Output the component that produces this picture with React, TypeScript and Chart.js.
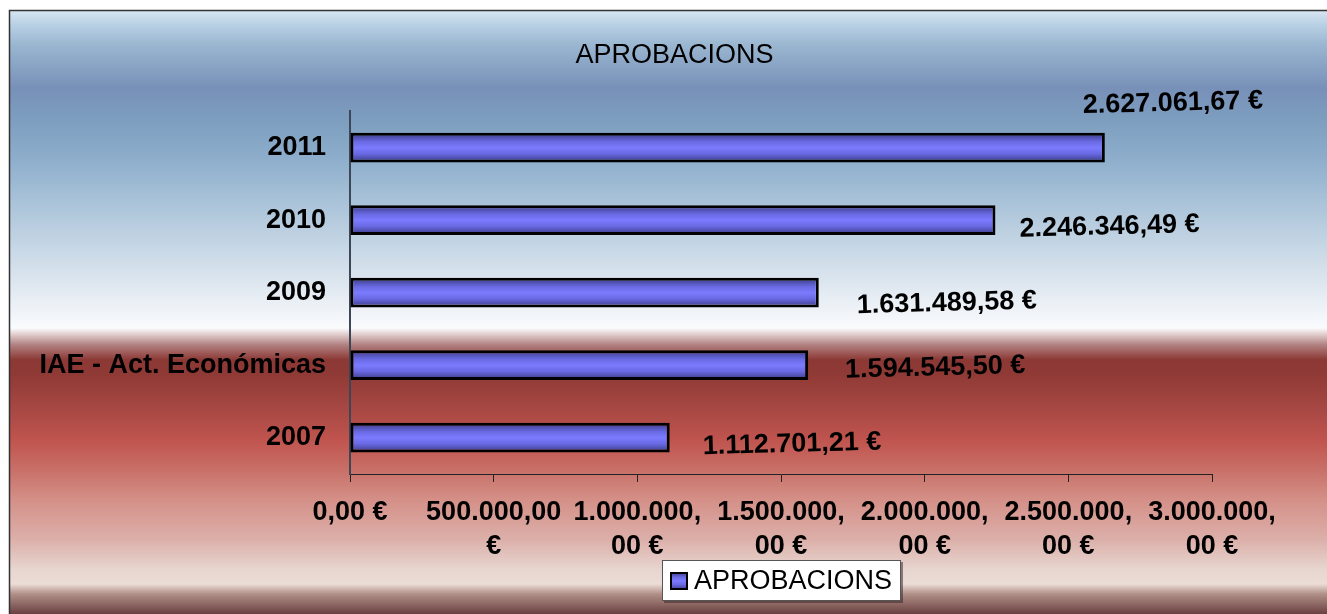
import React, { useEffect, useRef } from 'react';
import { Chart, registerables } from 'chart.js';

Chart.register(...registerables);

// ---------- data ----------
const categories: string[] = ['2007', 'IAE - Act. Económicas', '2009', '2010', '2011'];
const seriesName = 'APROBACIONS';
const seriesValues: number[] = [1112701.21, 1594545.5, 1631489.58, 2246346.49, 2627061.67];
const xTickLabels: (string | string[])[] = [
  '0,00 €',
  ['500.000,00', '€'],
  ['1.000.000,', '00 €'],
  ['1.500.000,', '00 €'],
  ['2.000.000,', '00 €'],
  ['2.500.000,', '00 €'],
  ['3.000.000,', '00 €'],
];
const chartTitle = 'APROBACIONS';

// ---------- style constants ----------
const W = 1327;
const H = 614;
const FONT = 'Arial, "Liberation Sans", Helvetica, sans-serif';
const FS = 27;
// label placement relative to bar end / bar centre (dx, dy), same order as categories
const labelOffsets: [number, number][] = [
  [33, 9],
  [37, 5],
  [38, 13],
  [24, 9],
  [-22, -42],
];

function fmtEuro(v: number): string {
  const [i, d] = v.toFixed(2).split('.');
  return i.replace(/\B(?=(\d{3})+(?!\d))/g, '.') + ',' + d + ' €';
}

function barFill(ctx: CanvasRenderingContext2D, top: number, h: number) {
  const g = ctx.createLinearGradient(0, top, 0, top + h);
  g.addColorStop(0, '#383880');
  g.addColorStop(0.3, '#6a6ae4');
  g.addColorStop(0.5, '#7b7bff');
  g.addColorStop(0.7, '#6a6ae4');
  g.addColorStop(1, '#383880');
  return g;
}

const backgroundPlugin = {
  id: 'bgPlugin',
  beforeDraw(chart: any) {
    const ctx = chart.ctx as CanvasRenderingContext2D;
    ctx.save();
    ctx.fillStyle = '#ffffff';
    ctx.fillRect(0, 0, W, H);
    const y0 = 10;
    const y1 = H;
    const g = ctx.createLinearGradient(0, y0, 0, y1);
    const stops: [number, string][] = [
      [10, '#d8e6f2'],
      [25, '#b8d0e4'],
      [45, '#9ab6d0'],
      [88, '#7890b8'],
      [115, '#7c9cbe'],
      [160, '#8eaecc'],
      [200, '#a8c2d8'],
      [250, '#c8d8e6'],
      [300, '#e8eef4'],
      [328, '#fafbfd'],
      [331, '#f0e6e6'],
      [345, '#b08080'],
      [360, '#8c3834'],
      [375, '#903a36'],
      [410, '#a84844'],
      [440, '#c0544e'],
      [470, '#c87068'],
      [500, '#d49088'],
      [540, '#dcb0aa'],
      [570, '#e8d6d0'],
      [584, '#ecdcd6'],
      [594, '#b09088'],
      [614, '#6a4040'],
    ];
    stops.forEach(([y, c]) => g.addColorStop((y - y0) / (y1 - y0), c));
    ctx.fillStyle = g;
    ctx.fillRect(9, y0, W - 9, y1 - y0);
    ctx.strokeStyle = '#333333';
    ctx.lineWidth = 1.5;
    ctx.beginPath();
    ctx.moveTo(9.5, H);
    ctx.lineTo(9.5, 10.5);
    ctx.lineTo(W, 10.5);
    ctx.stroke();
    ctx.restore();
  },
};

const dataLabelPlugin = {
  id: 'valueLabels',
  afterDatasetsDraw(chart: any) {
    const ctx = chart.ctx as CanvasRenderingContext2D;
    const meta = chart.getDatasetMeta(0);
    const data = chart.data.datasets[0].data as number[];
    ctx.save();
    ctx.font = `bold ${FS}px ${FONT}`;
    ctx.fillStyle = '#000000';
    ctx.textAlign = 'left';
    ctx.textBaseline = 'middle';
    meta.data.forEach((bar: any, i: number) => {
      const { x, y } = bar.getProps(['x', 'y'], true);
      const [dx, dy] = labelOffsets[i] || [20, 0];
      ctx.save();
      ctx.translate(x + dx, y + dy);
      ctx.rotate((-1.5 * Math.PI) / 180);
      ctx.fillText(fmtEuro(data[i]), 0, 0);
      ctx.restore();
    });
    ctx.restore();
  },
};

const legendPlugin = {
  id: 'boxLegend',
  afterDraw(chart: any) {
    const ctx = chart.ctx as CanvasRenderingContext2D;
    const label = chart.data.datasets[0].label as string;
    const bx = 662;
    const by = 560;
    const bw = 239;
    const bh = 41;
    ctx.save();
    ctx.fillStyle = 'rgba(60,40,40,0.55)';
    ctx.fillRect(bx + 2, by + 2, bw, bh);
    ctx.fillStyle = '#ffffff';
    ctx.fillRect(bx, by, bw, bh);
    ctx.strokeStyle = '#555555';
    ctx.lineWidth = 1;
    ctx.strokeRect(bx + 0.5, by + 0.5, bw - 1, bh - 1);
    // swatch
    ctx.fillStyle = barFill(ctx, 572, 18);
    ctx.fillRect(670, 572, 18, 18);
    ctx.strokeStyle = '#000000';
    ctx.lineWidth = 2;
    ctx.strokeRect(671, 573, 16, 16);
    ctx.fillStyle = '#000000';
    ctx.font = `normal ${FS}px ${FONT}`;
    ctx.textAlign = 'left';
    ctx.textBaseline = 'middle';
    ctx.fillText(label, 694, 582);
    ctx.restore();
  },
};

export default function App() {
  const ref = useRef<HTMLCanvasElement | null>(null);

  useEffect(() => {
    document.body.style.margin = '0';
    const canvas = ref.current;
    if (!canvas) return;
    const chart = new Chart(canvas, {
      type: 'bar',
      data: {
        labels: categories,
        datasets: [
          {
            label: seriesName,
            data: seriesValues,
            backgroundColor: (c: any) => {
              const chartRef = c.chart;
              const ys = chartRef && chartRef.scales && chartRef.scales.y;
              if (!ys || c.dataIndex === undefined) return '#7878ff';
              const yc = ys.getPixelForValue(c.dataIndex);
              const h = (ys.height / categories.length) * 0.41;
              if (!isFinite(yc) || !isFinite(h) || h <= 0) return '#7878ff';
              return barFill(chartRef.ctx, yc - h / 2, h);
            },
            borderColor: '#000000',
            borderWidth: 3,
            borderSkipped: false,
            barPercentage: 0.41,
            categoryPercentage: 1,
          } as any,
        ],
      },
      options: {
        indexAxis: 'y',
        responsive: false,
        maintainAspectRatio: false,
        devicePixelRatio: 1,
        animation: false,
        layout: { padding: { left: 22, right: 0, top: 0, bottom: 0 } },
        plugins: {
          legend: { display: false },
          tooltip: { enabled: false },
          title: {
            display: true,
            text: chartTitle,
            color: '#000000',
            font: { family: FONT, size: FS, weight: 'normal', lineHeight: 1.2 },
            padding: { top: 39, bottom: 40 },
          },
        },
        scales: {
          x: {
            type: 'linear',
            min: 0,
            max: 3000000,
            ticks: {
              stepSize: 500000,
              autoSkip: false,
              maxRotation: 0,
              minRotation: 0,
              color: '#000000',
              padding: 14,
              font: { family: FONT, size: FS, weight: 'bold', lineHeight: 1.25 },
              callback: (_v: any, i: number) => xTickLabels[i],
            },
            grid: {
              drawOnChartArea: false,
              drawTicks: true,
              tickLength: 8,
              color: '#222222',
              lineWidth: 1,
            },
            border: { display: true, color: '#222222', width: 1 },
            afterFit: (s: any) => {
              s.height = 140;
              s.paddingRight = 115;
              s.paddingLeft = 0;
            },
          } as any,
          y: {
            type: 'category',
            reverse: true,
            ticks: {
              color: '#000000',
              padding: 24,
              font: { family: FONT, size: FS, weight: 'bold' },
            },
            grid: { display: true, drawOnChartArea: false, drawTicks: false },
            border: { display: true, color: '#3c4656', width: 2 },
            afterFit: (s: any) => {
              s.width = 328;
            },
          } as any,
        },
      },
      plugins: [backgroundPlugin, dataLabelPlugin, legendPlugin],
    } as any);
    return () => chart.destroy();
  }, []);

  return (
    <div style={{ width: W, height: H, position: 'relative' }}>
      <canvas ref={ref} width={W} height={H} style={{ display: 'block', width: W, height: H }} />
    </div>
  );
}
